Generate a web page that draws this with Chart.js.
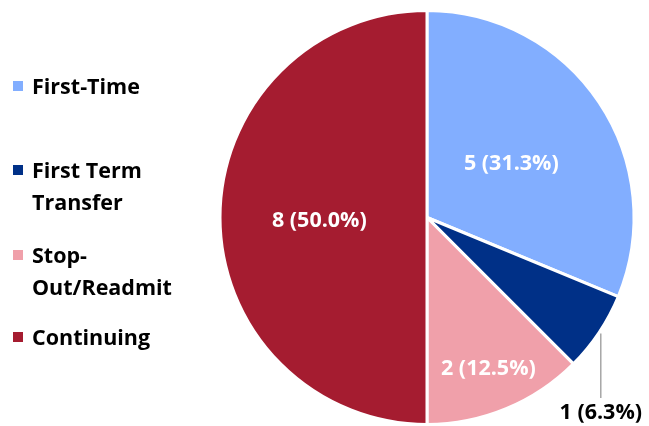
<!DOCTYPE html>
<html>
<head>
<meta charset="utf-8">
<script src="https://cdn.jsdelivr.net/npm/chart.js@4"></script>
<style>
html,body{margin:0;padding:0;background:#fff;}
#wrap{width:649px;height:426px;position:relative;}
</style>
</head>
<body>
<div id="wrap"><canvas id="c" width="649" height="426"></canvas></div>
<script>
const categories = ["First-Time", "First Term Transfer", "Stop-Out/Readmit", "Continuing"]
const counts = [5, 1, 2, 8]
const legendLines = [["First-Time"], ["First Term", "Transfer"], ["Stop-", "Out/Readmit"], ["Continuing"]]
const colors = ["#82AEFF", "#003087", "#F0A0AA", "#A51C30"]

const FONT = "bold 21.5px 'Open Sans', Lato, sans-serif"

const total = counts.reduce((a,b)=>a+b,0)
function labelText(i){
  return counts[i] + " (" + (counts[i]/total*100).toFixed(1) + "%)"
}

// where each slice label sits, as a fraction of the radius (null = outside with leader)
const labelRadius = [0.49, null, 0.775, 0.52]

const sliceLabels = {
  id:'sliceLabels',
  afterDatasetsDraw(chart){
    const ctx = chart.ctx
    const arcs = chart.getDatasetMeta(0).data
    ctx.save()
    ctx.font = FONT
    ctx.textAlign = "center"
    ctx.textBaseline = "middle"
    arcs.forEach((arc,i)=>{
      const p = arc.getProps(['x','y','startAngle','endAngle','outerRadius'],true)
      const mid = (p.startAngle+p.endAngle)/2
      if(labelRadius[i]!==null){
        const r = p.outerRadius*labelRadius[i]
        ctx.fillStyle = "#fff"
        ctx.fillText(labelText(i), p.x+Math.cos(mid)*r, p.y+Math.sin(mid)*r+3)
      } else {
        const ex = p.x+Math.cos(mid)*(p.outerRadius+2)
        const ey = p.y+Math.sin(mid)*(p.outerRadius+2)
        ctx.strokeStyle = "#A6A6A6"
        ctx.lineWidth = 1.5
        ctx.beginPath()
        ctx.moveTo(ex, ey)
        ctx.lineTo(ex, 398)
        ctx.stroke()
        ctx.fillStyle = "#000"
        ctx.fillText(labelText(i), ex, 413)
      }
    })
    ctx.restore()
  }
}

const sideLegend = {
  id:'sideLegend',
  afterDraw(chart){
    const ctx = chart.ctx
    const rows = [86, 170, 255, 337]
    ctx.save()
    ctx.font = FONT
    ctx.textAlign = "left"
    ctx.textBaseline = "middle"
    categories.forEach((c,i)=>{
      ctx.fillStyle = colors[i]
      ctx.fillRect(13, rows[i]-5, 10, 10)
      ctx.fillStyle = "#000"
      legendLines[i].forEach((t,j)=>{
        ctx.fillText(t, 32, rows[i]+j*32+2)
      })
    })
    ctx.restore()
  }
}

new Chart(document.getElementById("c"),{
  type:'pie',
  data:{
    labels: categories,
    datasets:[{
      data: counts,
      backgroundColor: colors,
      borderColor: "#fff",
      borderWidth: 3
    }]
  },
  options:{
    responsive:false,
    animation:false,
    layout:{padding:{left:217, right:12, top:9, bottom:-3}},
    plugins:{legend:{display:false}, tooltip:{enabled:false}}
  },
  plugins:[sliceLabels, sideLegend]
})
</script>
</body>
</html>
